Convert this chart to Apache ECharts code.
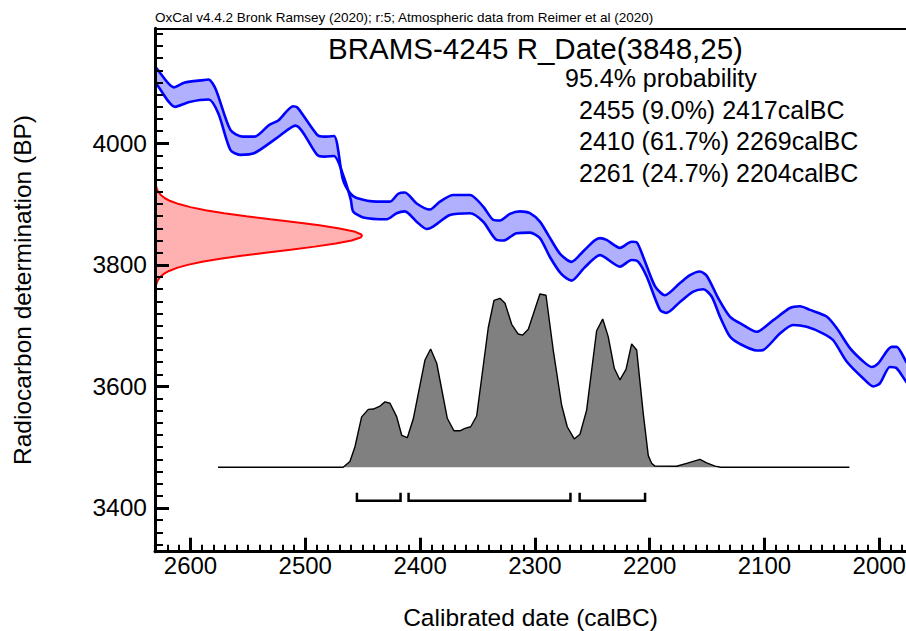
<!DOCTYPE html>
<html><head><meta charset="utf-8">
<script src="https://cdn.jsdelivr.net/npm/echarts@6/dist/echarts.min.js"></script>
<style>html,body{margin:0;padding:0;background:#fff}#c{width:906px;height:631px}</style>
</head><body><div id="c"></div>
<script>
// ---------- texts ----------
const headerText = 'OxCal v4.4.2 Bronk Ramsey (2020); r:5; Atmospheric data from Reimer et al (2020)';
const titleText = 'BRAMS-4245 R_Date(3848,25)';
const probText = '95.4% probability';
const rangeLines = ['2455 (9.0%) 2417calBC', '2410 (61.7%) 2269calBC', '2261 (24.7%) 2204calBC'];
const xAxisName = 'Calibrated date (calBC)';
const yAxisName = 'Radiocarbon determination (BP)';

// ---------- 95.4% ranges (calBC) ----------
const rangeFrom = [2455, 2410, 2261];
const rangeTo = [2417, 2269, 2204];

// ---------- tick labels ----------
const xTickLabels = [2600, 2500, 2400, 2300, 2200, 2100, 2000];
const yTickLabels = [3400, 3600, 3800, 4000];

// ---------- calibration curve (IntCal20 +/- 1 sigma): [calBC, BP] ----------
const curveUpper = [[2631,4126],[2629.4,4123],[2614.5,4092],[2605,4100],[2588.8,4104],[2584.3,4105],[2578,4089],[2565.2,4022],[2554.7,4011],[2544.2,4011],[2531.6,4030],[2523.2,4038],[2510.6,4061],[2506.4,4058],[2489.6,4014],[2483.4,4011],[2475,4012],[2467.2,3940],[2461,3918],[2455.2,3910],[2437.8,3904],[2426.2,3904],[2419,3917],[2413.2,3919],[2403,3901],[2391.4,3891],[2382.7,3904],[2371.1,3915],[2356.5,3915],[2345,3896],[2336.2,3874],[2330.4,3873],[2321.7,3884],[2313,3888],[2304.3,3885],[2295.6,3871],[2288.3,3849],[2278,3818],[2268,3805],[2258,3822],[2248,3840],[2243.3,3844],[2237.5,3841],[2225.9,3828],[2215.7,3838],[2211.3,3837],[2205.6,3813],[2195.4,3765],[2186.7,3750],[2173.6,3770],[2164.9,3783],[2156.2,3789],[2150.3,3782],[2140.2,3745],[2130.1,3715],[2118.5,3701],[2106.8,3690],[2092.3,3709],[2077.8,3729],[2069.1,3732],[2060.4,3726],[2045.8,3715],[2037.1,3696],[2025.5,3663],[2013.9,3641],[2006.6,3632],[2000.9,3638],[1989.2,3665],[1984.9,3665],[1976.7,3641],[1975,3636]];
const curveLower = [[2631,4099],[2629.4,4097],[2613.4,4060],[2600.9,4068],[2584.1,4072],[2575.7,4049],[2565.2,3989],[2556.8,3981],[2544.2,3984],[2525.3,4008],[2508.5,4029],[2489.6,3981],[2483.4,3978],[2475,3979],[2466.5,3945],[2460.3,3907],[2458.3,3888],[2449.5,3878],[2429.1,3875],[2420.4,3885],[2413.2,3888],[2403,3871],[2394.3,3859],[2388.6,3863],[2374,3882],[2356.6,3885],[2345,3871],[2333.3,3841],[2327.5,3840],[2315.9,3852],[2304.3,3853],[2295.6,3844],[2286.9,3813],[2277,3785],[2268,3774],[2257,3795],[2243.3,3816],[2225.9,3797],[2215.7,3808],[2209.9,3805],[2202.6,3781],[2191,3726],[2185.2,3721],[2173.6,3739],[2162,3756],[2153.3,3760],[2146,3748],[2138.8,3715],[2130.1,3682],[2121.4,3670],[2106.8,3659],[2101,3660],[2086.5,3687],[2075.1,3701],[2063.2,3698],[2048.8,3687],[2040.1,3676],[2028.4,3641],[2013.9,3613],[2005.2,3600],[1999.4,3605],[1990.7,3632],[1984.9,3630],[1976.7,3608],[1975,3604]];

// ---------- radiocarbon determination distribution: [relative prob, BP] ----------
const rDate = [[0.002,3935],[0.005,3930],[0.009,3925],[0.016,3920],[0.028,3915],[0.046,3910],[0.074,3905],[0.115,3900],[0.171,3895],[0.244,3890],[0.334,3885],[0.441,3880],[0.558,3875],[0.679,3870],[0.794,3865],[0.891,3860],[0.962,3855],[0.997,3850],[1,3848],[0.993,3845],[0.95,3840],[0.873,3835],[0.772,3830],[0.655,3825],[0.534,3820],[0.418,3815],[0.315,3810],[0.228,3805],[0.158,3800],[0.106,3795],[0.068,3790],[0.042,3785],[0.025,3780],[0.014,3775],[0.008,3770],[0.004,3765],[0.002,3760]];

// ---------- calibrated distribution: [calBC, relative prob] ----------
const calDist = [[2576,0],[2467,0],[2461.1,0.033],[2456.7,0.118],[2450.9,0.29],[2445.1,0.333],[2440.8,0.335],[2434.9,0.352],[2430.6,0.376],[2426.2,0.368],[2420.4,0.291],[2416,0.184],[2411.1,0.17],[2405.9,0.279],[2395.7,0.617],[2390.8,0.68],[2385.5,0.598],[2376.3,0.282],[2370.5,0.21],[2365.2,0.21],[2360.9,0.224],[2355.9,0.233],[2350.7,0.295],[2340.6,0.802],[2335.6,0.959],[2330.4,0.971],[2326,0.943],[2320.2,0.822],[2314.5,0.766],[2310.6,0.76],[2305.7,0.793],[2295.6,0.996],[2290.3,0.989],[2284,0.674],[2276.7,0.358],[2271.8,0.233],[2265.7,0.163],[2260.7,0.19],[2254.9,0.329],[2246.2,0.785],[2240.9,0.852],[2236.1,0.751],[2230.8,0.569],[2225.9,0.502],[2220.6,0.563],[2215.7,0.709],[2211.3,0.674],[2205.6,0.31],[2201.2,0.067],[2198.3,0.023],[2195.4,0.007],[2176.5,0.006],[2167.8,0.023],[2156.2,0.046],[2150.3,0.026],[2143.1,0.007],[2138,0],[2026,0]];

// ---------- layout / style ----------
const FONT = "'Liberation Sans', Arial, Helvetica, sans-serif";
const X_MIN = 1976.7, X_MAX = 2630.9, Y_MIN = 3328.1, Y_MAX = 4189.2;
const xMinorTicks = []; for (let v = 1980; v <= 2630; v += 10) xMinorTicks.push(v);
const yMinorTicks = []; for (let v = 3340; v <= 4180; v += 20) yMinorTicks.push(v);
const BRACKET_LEVEL = -0.192;
const plain = v => String(v);

const chart = echarts.init(document.getElementById('c'), null, {renderer: 'svg'});

const hiddenAxis = (extra) => Object.assign({type: 'value', show: false, axisLine: {show: false, onZero: false}, axisTick: {show: false}, axisLabel: {show: false}, splitLine: {show: false}}, extra);

const option = {
  animation: false,
  backgroundColor: '#ffffff',
  grid: {left: 155, right: 0, top: 28.3, bottom: 79.3, containLabel: false, outerBoundsMode: 'none'},
  xAxis: [
    { // main calendar axis
      type: 'value', min: X_MIN, max: X_MAX, inverse: true, position: 'bottom', z: 10,
      axisLine: {show: true, onZero: false, lineStyle: {color: '#000', width: 3}},
      axisTick: {show: true, inside: true, length: 14, customValues: xTickLabels, lineStyle: {color: '#000', width: 3}},
      axisLabel: {show: true, customValues: xTickLabels, formatter: plain, margin: 2, fontSize: 24, fontFamily: FONT, color: '#000'},
      splitLine: {show: false},
      name: xAxisName, nameLocation: 'middle', nameGap: 53.5,
      nameTextStyle: {fontSize: 24.5, fontFamily: FONT, color: '#000'}
    },
    { // minor ticks
      type: 'value', min: X_MIN, max: X_MAX, inverse: true, position: 'bottom', z: 10,
      axisLine: {show: false, onZero: false},
      axisTick: {show: true, inside: true, length: 7, customValues: xMinorTicks, lineStyle: {color: '#000', width: 2}},
      axisLabel: {show: false}, splitLine: {show: false}
    },
    { // top frame
      type: 'value', min: X_MIN, max: X_MAX, inverse: true, position: 'top', z: 10,
      axisLine: {show: true, onZero: false, lineStyle: {color: '#000', width: 2}},
      axisTick: {show: false}, axisLabel: {show: false}, splitLine: {show: false}
    },
    hiddenAxis({min: 0, max: 3.628, position: 'top'}) // density scale of the R_Date curve
  ],
  yAxis: [
    {
      type: 'value', min: Y_MIN, max: Y_MAX, position: 'left', z: 10,
      axisLine: {show: true, onZero: false, lineStyle: {color: '#000', width: 3}},
      axisTick: {show: true, inside: true, length: 14, customValues: yTickLabels, lineStyle: {color: '#000', width: 3}},
      axisLabel: {show: true, customValues: yTickLabels, formatter: plain, margin: 8, fontSize: 24.5, fontFamily: FONT, color: '#000'},
      splitLine: {show: false},
      name: yAxisName, nameLocation: 'middle', nameGap: 120,
      nameTextStyle: {fontSize: 24.5, fontFamily: FONT, color: '#000'}
    },
    {
      type: 'value', min: Y_MIN, max: Y_MAX, position: 'left', z: 10,
      axisLine: {show: false, onZero: false},
      axisTick: {show: true, inside: true, length: 8, customValues: yMinorTicks, lineStyle: {color: '#000', width: 2}},
      axisLabel: {show: false}, splitLine: {show: false}
    },
    hiddenAxis({min: -0.485, max: 2.523, position: 'right'}) // probability scale of calibrated distribution
  ],
  graphic: [
    {type: 'text', x: 155, y: 17.5, z: 20, style: {text: headerText, fontSize: 13.5, fontFamily: FONT, fill: '#000', textAlign: 'left', textVerticalAlign: 'middle'}},
    {type: 'text', x: 535.5, y: 48.5, z: 20, style: {text: titleText, fontSize: 29.5, fontFamily: FONT, fill: '#000', textAlign: 'center', textVerticalAlign: 'middle'}},
    {type: 'text', x: 565, y: 78, z: 20, style: {text: probText, fontSize: 25, fontFamily: FONT, fill: '#000', textAlign: 'left', textVerticalAlign: 'middle'}},
    {type: 'text', x: 579, y: 109.5, z: 20, style: {text: rangeLines[0], fontSize: 25, fontFamily: FONT, fill: '#000', textAlign: 'left', textVerticalAlign: 'middle'}},
    {type: 'text', x: 579, y: 141, z: 20, style: {text: rangeLines[1], fontSize: 25, fontFamily: FONT, fill: '#000', textAlign: 'left', textVerticalAlign: 'middle'}},
    {type: 'text', x: 579, y: 172.5, z: 20, style: {text: rangeLines[2], fontSize: 25, fontFamily: FONT, fill: '#000', textAlign: 'left', textVerticalAlign: 'middle'}}
  ],
  series: [
    { // calibration band fill
      type: 'custom', name: 'IntCal20 band', xAxisIndex: 0, yAxisIndex: 0, clip: true, z: 2, silent: true,
      data: [curveUpper[0]],
      renderItem: function (params, api) {
        const pts = [];
        curveUpper.forEach(p => pts.push(api.coord(p)));
        for (let i = curveLower.length - 1; i >= 0; i--) pts.push(api.coord(curveLower[i]));
        return {type: 'polygon', shape: {points: pts, smooth: 0.25}, style: {fill: '#b0b0ff', stroke: null}};
      }
    },
    {type: 'line', name: 'IntCal20 upper', xAxisIndex: 0, yAxisIndex: 0, data: curveUpper, symbol: 'none', smooth: 0.25, z: 3,
      lineStyle: {color: '#0000ff', width: 2.6}},
    {type: 'line', name: 'IntCal20 lower', xAxisIndex: 0, yAxisIndex: 0, data: curveLower, symbol: 'none', smooth: 0.25, z: 3,
      lineStyle: {color: '#0000ff', width: 2.6}},
    { // R_Date fill
      type: 'custom', name: 'R_Date fill', xAxisIndex: 3, yAxisIndex: 0, clip: true, z: 2, silent: true,
      data: [rDate[0]],
      renderItem: function (params, api) {
        const pts = [api.coord([0, rDate[0][1]])];
        rDate.forEach(p => pts.push(api.coord(p)));
        pts.push(api.coord([0, rDate[rDate.length - 1][1]]));
        return {type: 'polygon', shape: {points: pts}, style: {fill: '#ffb0b0', stroke: null}};
      }
    },
    {type: 'line', name: 'R_Date', xAxisIndex: 3, yAxisIndex: 0, data: rDate, symbol: 'none', z: 3,
      lineStyle: {color: '#ff0000', width: 2}},
    {type: 'line', name: 'Calibrated', xAxisIndex: 0, yAxisIndex: 2, data: calDist, symbol: 'none', z: 3,
      lineStyle: {color: '#000', width: 1.4}, areaStyle: {color: '#808080', opacity: 1}},
    { // 95.4% range brackets
      type: 'custom', name: 'ranges', xAxisIndex: 0, yAxisIndex: 2, z: 4,
      data: rangeFrom.map((f, i) => [f, rangeTo[i]]),
      encode: {x: [0, 1]},
      renderItem: function (params, api) {
        const a = api.coord([api.value(0), BRACKET_LEVEL]);
        const b = api.coord([api.value(1), BRACKET_LEVEL]);
        return {type: 'polyline', shape: {points: [[a[0], a[1] - 8], [a[0], a[1]], [b[0], b[1]], [b[0], b[1] - 8]]},
          style: {stroke: '#000', lineWidth: 2.5, fill: null}};
      }
    }
  ]
};
chart.setOption(option);
</script>
</body></html>
